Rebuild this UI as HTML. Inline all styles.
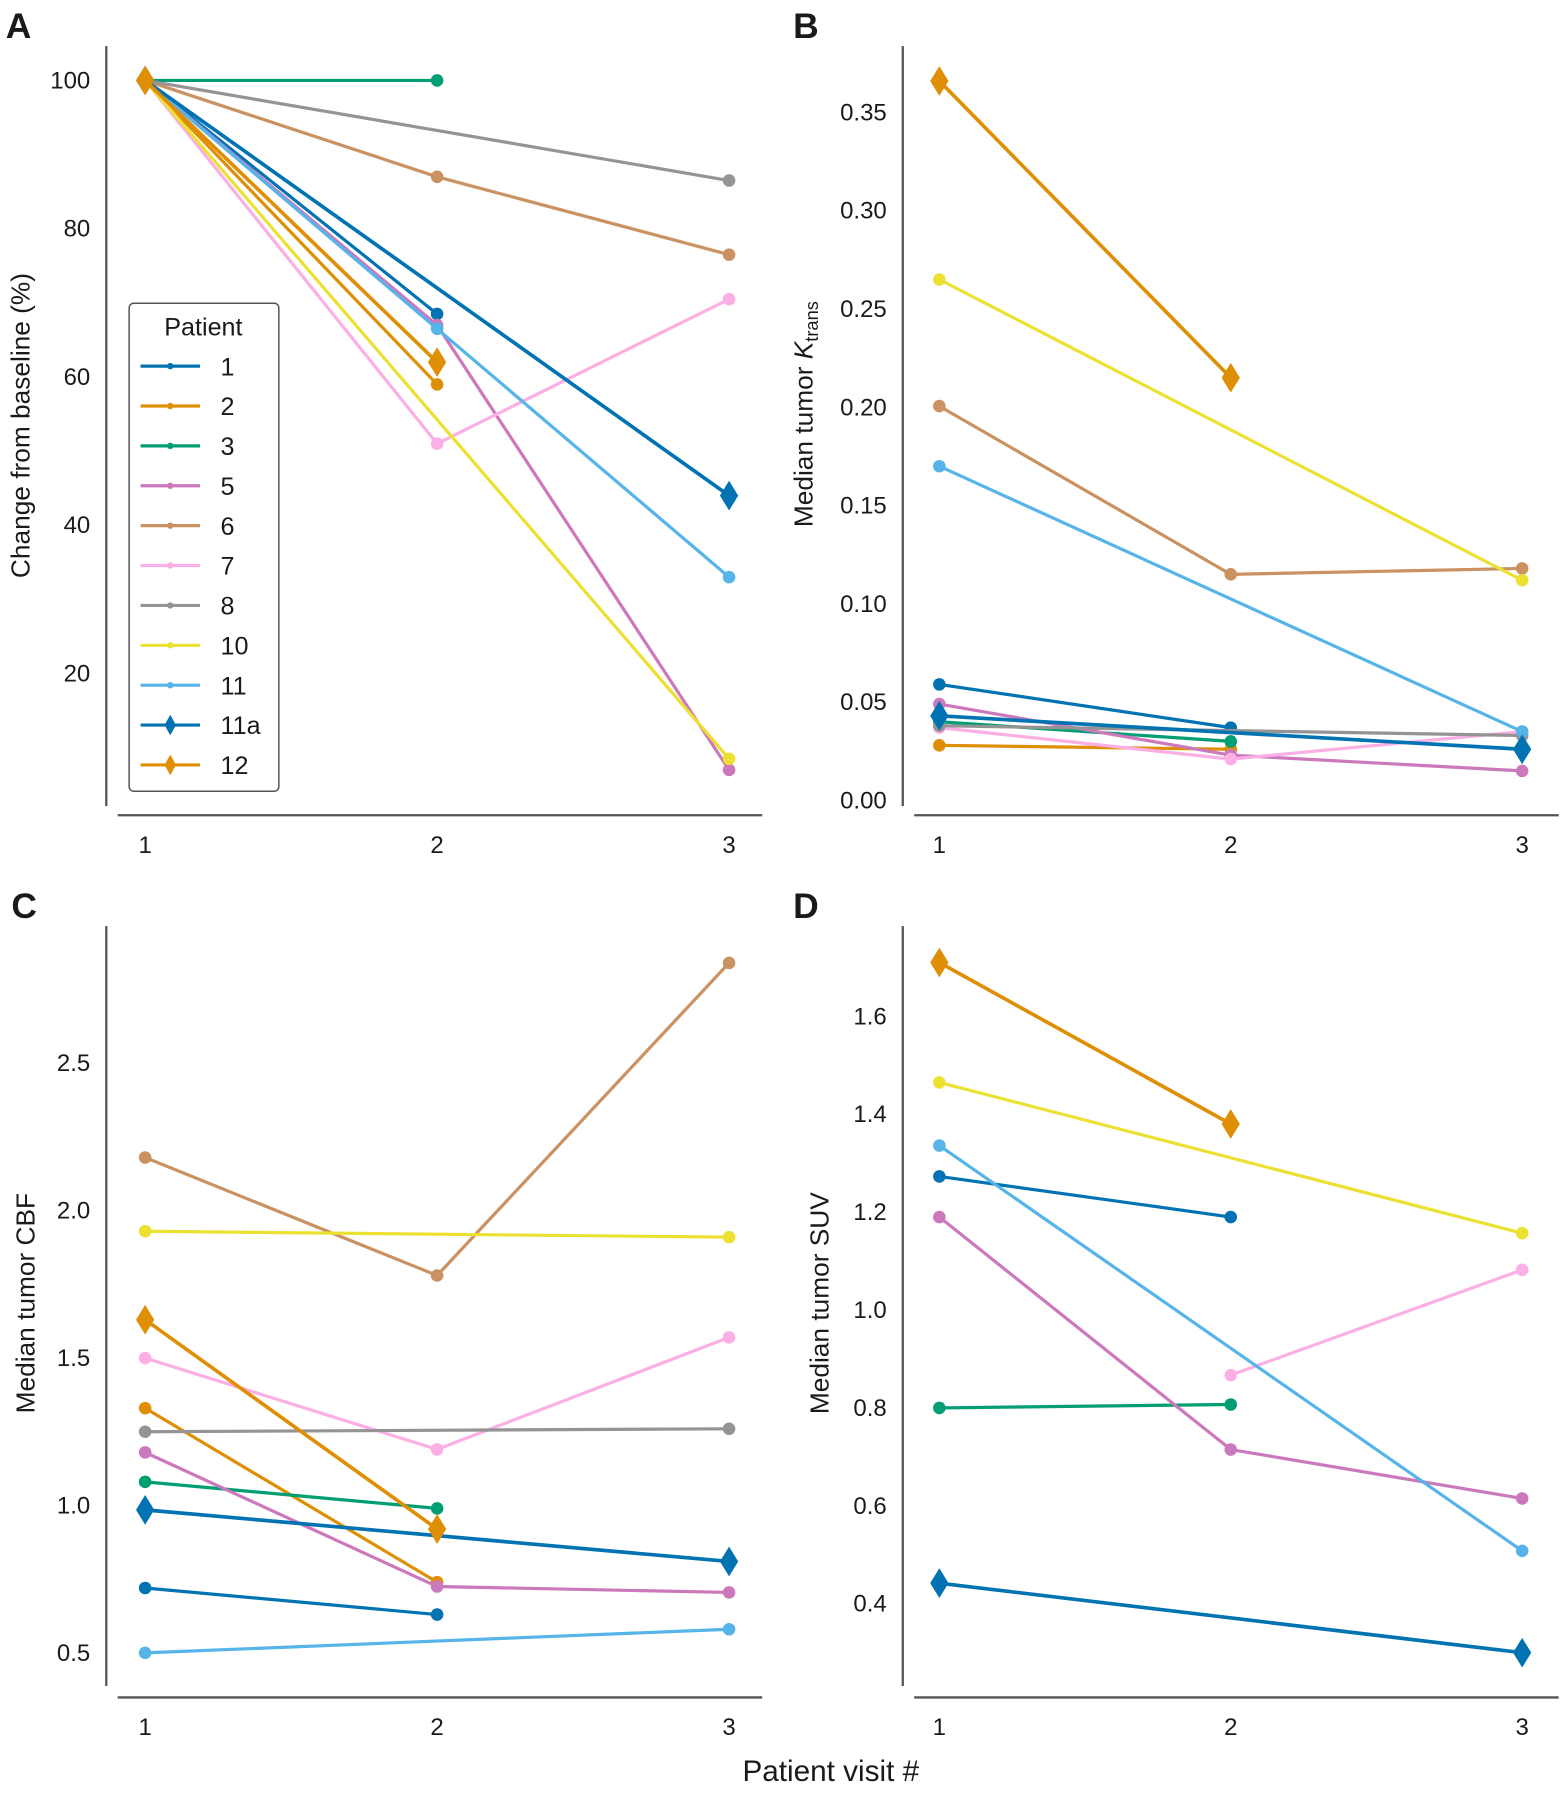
<!DOCTYPE html>
<html><head><meta charset="utf-8">
<style>
html,body{margin:0;padding:0;background:#fff;}
svg{display:block;}
text{font-family:"Liberation Sans",sans-serif;fill:#1a1a1a;}
</style></head>
<body>
<svg id="chart" width="1561" height="1795" viewBox="0 0 1366 1570" xmlns="http://www.w3.org/2000/svg">
<text x="5" y="33" font-size="31" font-weight="bold">A</text>
<text x="694" y="33" font-size="31" font-weight="bold">B</text>
<text x="10" y="803" font-size="31" font-weight="bold">C</text>
<text x="694" y="803" font-size="31" font-weight="bold">D</text>
<text x="26" y="372" font-size="23" text-anchor="middle" transform="rotate(-90 26 372)">Change from baseline (%)</text>
<text x="711" y="362" font-size="23" text-anchor="middle" transform="rotate(-90 711 362)">Median tumor <tspan font-style="italic">K</tspan><tspan font-size="16" dy="5">trans</tspan></text>
<text x="30" y="1140" font-size="23" text-anchor="middle" transform="rotate(-90 30 1140)">Median tumor CBF</text>
<text x="725" y="1140" font-size="23" text-anchor="middle" transform="rotate(-90 725 1140)">Median tumor SUV</text>
<text x="727" y="1558" font-size="26" text-anchor="middle">Patient visit #</text>
<g id="plots"></g>
</svg>
<script>
const patients = ['1','2','3','5','6','7','8','10','11','11a','12'];
const colors = ['#0173B2','#DE8F05','#029E73','#CC78BC','#CA9161','#FBAFE4','#949494','#ECE133','#56B4E9','#0173B2','#DE8F05'];
const visits = [1,2,3];
// Panel A: change from baseline (%)
const valuesA = [[100,68.5,null],[100,59,null],[100,100,null],[100,67,7],[100,87,76.5],[100,51,70.5],[100,null,86.5],[100,null,8.5],[100,66.5,33],[100,null,44],[100,62,null]];
const ticksA = [20,40,60,80,100];
// Panel B: Ktrans
const valuesB = [[0.059,0.037,null],[0.028,0.026,null],[0.040,0.030,null],[0.049,0.023,0.015],[0.2006,0.115,0.118],[0.037,0.021,0.035],[0.038,null,0.033],[0.265,null,0.112],[0.170,null,0.035],[0.043,null,0.026],[0.366,0.215,null]];
const ticksB = [0,0.05,0.10,0.15,0.20,0.25,0.30,0.35];
// Panel C: CBF
const valuesC = [[0.72,0.63,null],[1.33,0.74,null],[1.08,0.99,null],[1.18,0.725,0.705],[2.18,1.78,2.84],[1.50,1.19,1.57],[1.25,null,1.26],[1.93,null,1.91],[0.50,null,0.58],[0.985,null,0.81],[1.63,0.92,null]];
const ticksC = [0.5,1.0,1.5,2.0,2.5];
// Panel D: SUV
const valuesD = [[1.273,1.19,null],[null,null,null],[0.80,0.807,null],[1.19,0.715,0.615],[null,null,null],[null,0.867,1.082],[null,null,null],[1.465,null,1.157],[1.336,null,0.508],[0.442,null,0.30],[1.71,1.38,null]];
const ticksD = [0.4,0.6,0.8,1.0,1.2,1.4,1.6];

const NS='http://www.w3.org/2000/svg';
const root=document.getElementById('plots');
function mk(tag,attrs,parent){const e=document.createElementNS(NS,tag);for(const k in attrs)e.setAttribute(k,attrs[k]);(parent||root).appendChild(e);return e;}

const panels=[
 {id:'a',vals:valuesA,ticks:ticksA,dec:0,ax:93,x1:127,x3:638,v0:100,p0:70,v1:20,p1:589,yTop:40,yBot:705,xAxisY:713,tickLabelY:746},
 {id:'b',vals:valuesB,ticks:ticksB,dec:2,ax:790,x1:822,x3:1332,v0:0,p0:700,v1:0.35,p1:98,yTop:40,yBot:705,xAxisY:713,tickLabelY:746},
 {id:'c',vals:valuesC,ticks:ticksC,dec:1,ax:93,x1:127,x3:638,v0:2.5,p0:930,v1:0.5,p1:1446,yTop:810,yBot:1475,xAxisY:1485,tickLabelY:1518},
 {id:'d',vals:valuesD,ticks:ticksD,dec:1,ax:790,x1:822,x3:1332,v0:1.6,p0:889,v1:0.4,p1:1403,yTop:810,yBot:1475,xAxisY:1485,tickLabelY:1518}
];

panels.forEach(P=>{
 const g=mk('g',{});
 
 
 const xs=v=>P.x1+(v-1)*(P.x3-P.x1)/2;
 const ys=v=>P.p0+(v-P.v0)*(P.p1-P.p0)/(P.v1-P.v0);
 const ya=mk('line',{x1:P.ax,x2:P.ax,y1:P.yTop,y2:P.yBot,stroke:'#555','stroke-width':2},g);
 
 
 const xa=mk('line',{x1:P.ax+10,x2:P.ax+574,y1:P.xAxisY,y2:P.xAxisY,stroke:'#555','stroke-width':2},g);
 
 
 P.ticks.forEach(t=>{
  const tx=mk('text',{x:P.ax-14,y:ys(t)+7,'font-size':21,'text-anchor':'end'},g);
  tx.textContent=t.toFixed(P.dec);
  
  
 });
 visits.forEach(v=>{
  const tx=mk('text',{x:xs(v),y:P.tickLabelY,'font-size':21,'text-anchor':'middle'},g);
  tx.textContent=String(v);
  
  
 });
 P.vals.forEach((row,i)=>{
  const pts=[];row.forEach((v,j)=>{if(v!==null)pts.push([xs(visits[j]),ys(v)]);});
  if(!pts.length)return;
  const diamond=(patients[i]==='11a'||patients[i]==='12');
  const sg=mk('g',{},g);
  
  
  const pl=mk('polyline',{points:pts.map(p=>p.join(',')).join(' '),fill:'none',stroke:colors[i],'stroke-width':diamond?3.2:2.8},sg);
  
  
  pts.forEach(p=>{
   let m;
   if(diamond){m=mk('polygon',{points:`${p[0]},${p[1]-13} ${p[0]+8},${p[1]} ${p[0]},${p[1]+13} ${p[0]-8},${p[1]}`,fill:colors[i]},sg);}
   else{m=mk('circle',{cx:p[0],cy:p[1],r:5.5,fill:colors[i]},sg);}
   
   
  });
 });
});

// Legend in panel A
const lg=mk('g',{});


mk('rect',{x:113,y:265,width:131,height:427,rx:4,fill:'#fff',stroke:'#555','stroke-width':1.3},lg);
const lt=mk('text',{x:178,y:293,'font-size':22,'text-anchor':'middle'},lg);
lt.textContent='Patient';


patients.forEach((p,i)=>{
 const y=320+i*34.9;
 const eg=mk('g',{},lg);
 
 
 mk('line',{x1:123,x2:175,y1:y,y2:y,stroke:colors[i],'stroke-width':2.8},eg);
 if(p==='11a'||p==='12'){mk('polygon',{points:`149,${y-9} 154,${y} 149,${y+9} 144,${y}`,fill:colors[i]},eg);}
 else{mk('circle',{cx:149,cy:y,r:2.8,fill:colors[i]},eg);}
 const t=mk('text',{x:193,y:y+8,'font-size':22},eg);
 t.textContent=p;
});
</script>
</body></html>
